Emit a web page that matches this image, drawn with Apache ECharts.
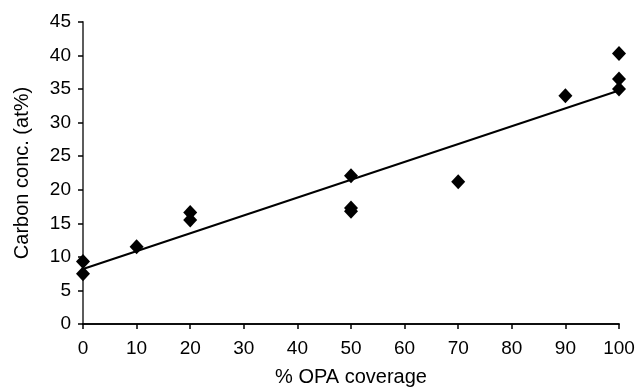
<!DOCTYPE html>
<html>
<head>
<meta charset="utf-8">
<script src="https://cdn.jsdelivr.net/npm/echarts@6/dist/echarts.min.js"></script>
<style>html,body{margin:0;padding:0;background:#fff}#c{width:638px;height:392px}</style>
</head>
<body>
<div id="c"></div>
<script>
const coverage = [0, 0, 10, 20, 20, 50, 50, 50, 70, 90, 100, 100, 100];
const carbon = [9.3, 7.5, 11.5, 16.6, 15.5, 22.1, 17.3, 16.8, 21.2, 34.0, 40.3, 36.5, 35.0];
const trendX = [0, 100];
const trendY = [8.2, 34.8];
const xTicks = [0, 10, 20, 30, 40, 50, 60, 70, 80, 90, 100];
const yTicks = [0, 5, 10, 15, 20, 25, 30, 35, 40, 45];

const font = 'Liberation Sans, Arial, sans-serif';
const chart = echarts.init(document.getElementById('c'));
chart.setOption({
  animation: false,
  backgroundColor: '#fff',
  grid: {left: 83, right: 19, top: 22, bottom: 65},
  xAxis: [{
    type: 'value', min: xTicks[0], max: xTicks[xTicks.length-1], interval: 10,
    name: '% OPA coverage', nameLocation: 'middle', nameGap: 43,
    nameTextStyle: {fontFamily: font, fontSize: 20, color: '#000'},
    axisLine: {show: true, lineStyle: {color: '#000', width: 1.5}},
    axisTick: {show: true, inside: false, length: 5, lineStyle: {color: '#000', width: 1.5}},
    axisLabel: {fontFamily: font, fontSize: 19, color: '#000', margin: 15},
    splitLine: {show: false}
  }, {
    type: 'value', position: 'top', min: 0, max: 100,
    axisLine: {show: true, lineStyle: {color: '#000', width: 1.5}},
    axisTick: {show: false}, axisLabel: {show: false}, splitLine: {show: false}
  }],
  yAxis: [{
    type: 'value', min: yTicks[0], max: yTicks[yTicks.length-1], interval: 5,
    name: 'Carbon conc. (at%)', nameLocation: 'middle', nameGap: 51, nameRotate: 90,
    nameTextStyle: {fontFamily: font, fontSize: 20, color: '#000'},
    axisLine: {show: true, lineStyle: {color: '#000', width: 1.5}},
    axisTick: {show: true, inside: false, length: 5, lineStyle: {color: '#000', width: 1.5}},
    axisLabel: {fontFamily: font, fontSize: 19, color: '#000', margin: 12},
    splitLine: {show: false}
  }, {
    type: 'value', position: 'right', min: 0, max: 45,
    axisLine: {show: true, lineStyle: {color: '#666', width: 1.5}},
    axisTick: {show: false}, axisLabel: {show: false}, splitLine: {show: false}
  }],
  series: [{
    type: 'line',
    data: trendX.map((x, i) => [x, trendY[i]]),
    symbol: 'none',
    lineStyle: {color: '#000', width: 2},
    z: 2
  }, {
    type: 'scatter',
    data: coverage.map((x, i) => [x, carbon[i]]),
    symbol: 'diamond',
    symbolSize: [14, 15],
    itemStyle: {color: '#000', opacity: 1},
    z: 3
  }]
});
</script>
</body>
</html>
